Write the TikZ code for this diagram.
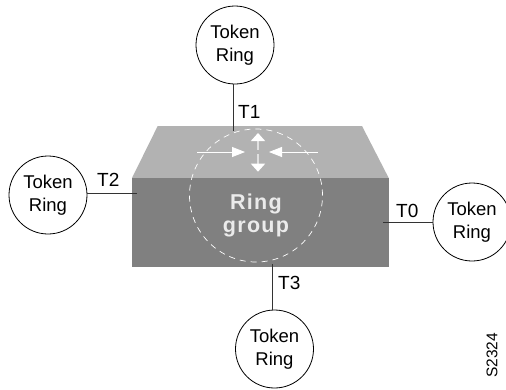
\documentclass[tikz,border=0pt]{standalone}
\usepackage{fontspec}
\setmainfont{Liberation Sans}
\usetikzlibrary{arrows.meta}
\tikzset{
 ring/.style={circle,draw=black,line width=0.8pt,fill=white,minimum size=78pt,inner sep=0pt,align=center,font=\fontsize{18.5}{23.5}\selectfont},
 link/.style={draw=black!80,line width=0.9pt},
 lab/.style={inner sep=0pt,font=\fontsize{19}{21}\selectfont},
 wharrow/.style={draw=white,line width=0.8pt,-{Triangle[width=10pt,length=13pt,fill=white,color=white]}},
 vharrow/.style={draw=black!12,line width=1.4pt,-{Triangle[width=14pt,length=8pt,fill=white,color=white]}}
}
\begin{document}
\begin{tikzpicture}[x=1pt,y=-1pt]
\useasboundingbox (0,0) rectangle (506,389);
\fill[white] (0,0) rectangle (506,389);
\fill[black!30] (157.7,126) -- (362,126) -- (388.7,178) -- (132,178) -- cycle;
\fill[black!50] (132,178) rectangle (388.7,266.7);
\coordinate (a1) at (233.3,131);
\coordinate (a2) at (136.5,193.3);
\coordinate (a3) at (272.7,264);
\coordinate (a0) at (383,222.7);
\node[ring] (r1) at (235,45) {Token\\Ring};
\node[ring] (r2) at (48,195) {Token\\Ring};
\node[ring] (r3) at (274.5,349) {Token\\Ring};
\node[ring] (r0) at (472,222) {Token\\Ring};
\draw[link] (a1) -- (a1 |- r1.south);
\draw[link] (a2) -- (a2 -| r2.east);
\draw[link] (a3) -- (a3 |- r3.north);
\draw[link] (a0) -- (a0 -| r0.west);
\node[lab,anchor=west] (t1) at (238,112) {T1};
\node[lab,anchor=west] (t2) at (97,180) {T2};
\node[lab,anchor=west] (t3) at (278,283) {T3};
\node[lab,anchor=west] (t0) at (396,211) {T0};
\node[circle,draw=white,dash pattern=on 6pt off 5pt,line width=0.7pt,minimum size=133pt,inner sep=0pt] (c) at (256,195.5) {};
\coordinate (ha) at (197,152);
\coordinate (hb) at (245,152);
\coordinate (hc) at (317.7,152);
\coordinate (hd) at (269,152);
\coordinate (vu0) at (258,150);
\coordinate (vd0) at (258,154);
\coordinate (vu) at (258,133);
\coordinate (vd) at (258,171.7);
\draw[wharrow] (ha) -- (hb);
\draw[wharrow] (hc) -- (hd);
\draw[vharrow] (vu0) -- (vu);
\draw[vharrow] (vd0) -- (vd);
\node[text=black!8,align=center,inner sep=0pt,font=\fontsize{21.5}{23}\selectfont\bfseries,text width=100pt] (g) at (256,215) {\addfontfeature{LetterSpace=6}Ring\\group};
\node[rotate=90,inner sep=0pt,font=\fontsize{15.5}{17}\selectfont,anchor=west] (s) at (492,378) {S2324};
\end{tikzpicture}
\end{document}
